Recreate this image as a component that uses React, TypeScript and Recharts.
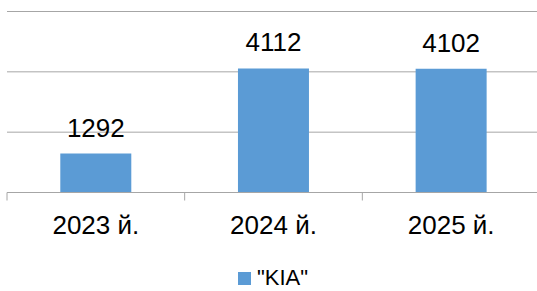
import React from 'react';
import { BarChart, Bar, XAxis, YAxis, CartesianGrid, LabelList, Legend } from 'recharts';

const categories = ['2023 й.', '2024 й.', '2025 й.'];
const kiaValues = [1292, 4112, 4102];
const yTicks = [0, 2000, 4000, 6000];
const seriesName = '"KIA"';

const data = categories.map((c, i) => ({ name: c, kia: kiaValues[i] }));

const FONT = '"Liberation Sans", Arial, sans-serif';
const GRID = '#a6a6a6';
const BAR = '#5b9bd5';
const TICK_SIZE = 8;
const TICK_MARGIN = 15.5;

const CategoryTick = (props: any) => {
  const { x, y, payload, index, visibleTicksCount } = props;
  const half = payload && typeof payload.offset === 'number' && payload.offset > 0 ? payload.offset : 88.8;
  const axisY = y - TICK_SIZE - TICK_MARGIN;
  const isLast = index === (visibleTicksCount ?? categories.length) - 1;
  return (
    <g>
      <line x1={x - half} x2={x - half} y1={axisY} y2={axisY + TICK_SIZE} stroke={GRID} strokeWidth={1} />
      {isLast && (
        <line x1={x + half} x2={x + half} y1={axisY} y2={axisY + TICK_SIZE} stroke={GRID} strokeWidth={1} />
      )}
      <text x={x} y={y} dy="0.71em" textAnchor="middle" fill="#000" fontSize={26} fontFamily={FONT}>
        {payload.value}
      </text>
    </g>
  );
};

const LegendContent = () => (
  <div style={{ display: 'flex', alignItems: 'center', height: 24, fontFamily: FONT, fontSize: 22, color: '#000', lineHeight: '24px', whiteSpace: 'nowrap', width: 120 }}>
    <span style={{ display: 'inline-block', width: 13, height: 13, background: BAR, marginRight: 6, flex: 'none' }} />
    <span style={{ flex: 'none' }}>{seriesName}</span>
  </div>
);

export default function App() {
  return (
    <div style={{ position: 'absolute', left: 0, top: 0, width: 537, height: 291, overflow: 'hidden', background: '#fff' }}>
      <BarChart
        width={540}
        height={291}
        data={data}
        margin={{ top: 11.5, right: 0, left: 7, bottom: 34.5 }}
        barCategoryGap="30%"
      >
        <CartesianGrid vertical={false} stroke={GRID} strokeWidth={1} />
        <YAxis hide domain={[0, 6000]} ticks={yTicks} />
        <XAxis
          dataKey="name"
          axisLine={{ stroke: GRID, strokeWidth: 1 }}
          tickLine={false}
          tickSize={TICK_SIZE}
          tickMargin={TICK_MARGIN}
          height={40}
          interval={0}
          tick={<CategoryTick />}
        />
        <Legend
          verticalAlign="bottom"
          content={<LegendContent />}
          wrapperStyle={{ top: 266, left: 238, width: 120, height: 24, bottom: 'auto' }}
        />
        <Bar dataKey="kia" name={seriesName} fill={BAR} isAnimationActive={false}>
          <LabelList dataKey="kia" position="top" offset={17} fill="#000" fontSize={26} fontFamily={FONT} />
        </Bar>
      </BarChart>
    </div>
  );
}
